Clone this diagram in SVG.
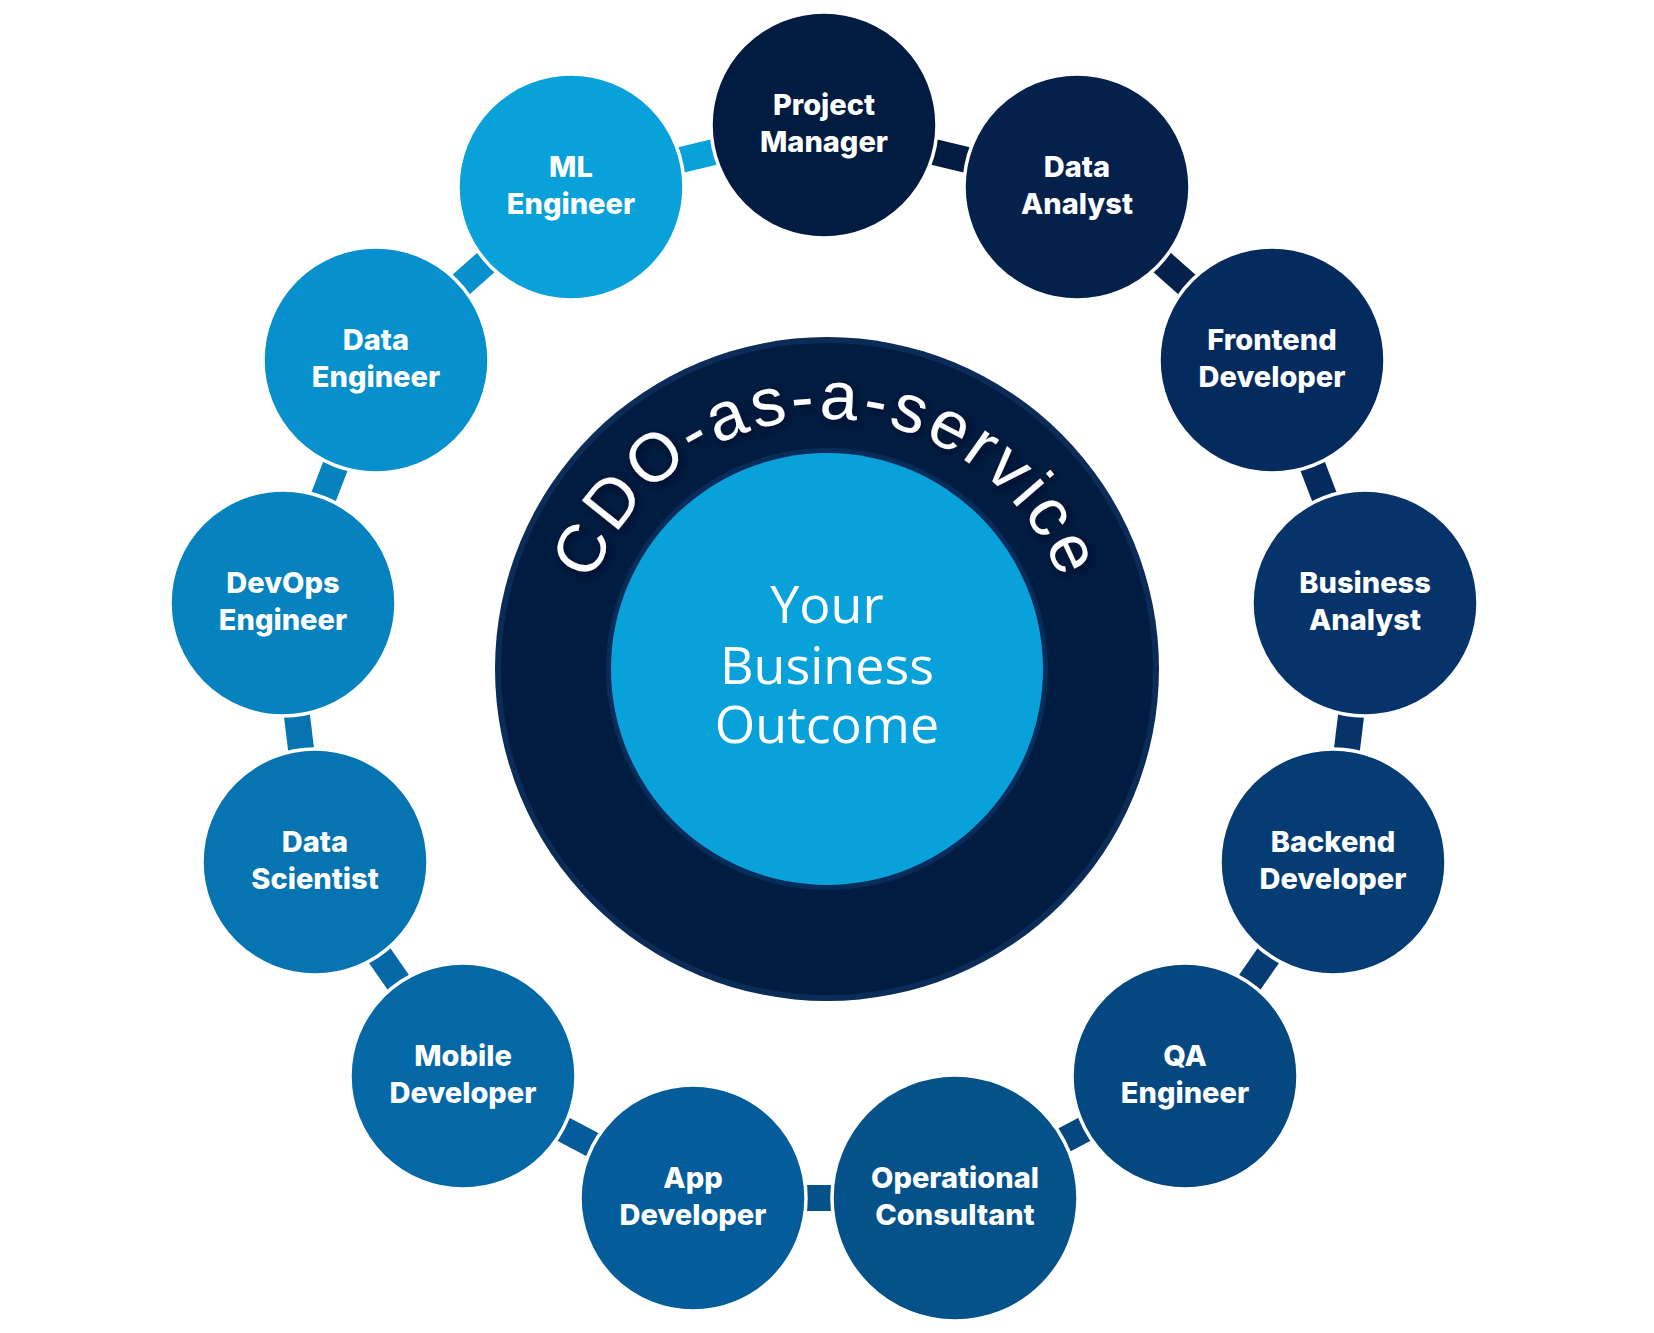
<svg xmlns="http://www.w3.org/2000/svg" width="1654" height="1333" viewBox="0 0 1654 1333">
<style>
.node{stroke:#ffffff;stroke-width:3.5}
.lbl{font-family:Inter,"Open Sans","Liberation Sans",sans-serif;font-weight:800;font-size:29px;fill:#ffffff;text-anchor:middle}
.ctr{font-family:"Open Sans","Noto Sans","Liberation Sans",sans-serif;font-weight:400;font-size:52px;fill:#ffffff;text-anchor:middle}
.arc{font-family:"Liberation Sans",Arial,sans-serif;font-size:68px;fill:#ffffff;letter-spacing:4px}
</style>
<defs>
<path id="arcPath" d="M 577 669 A 250 250 0 0 1 1077 669"/>
<filter id="sh" x="-20%" y="-20%" width="140%" height="140%">
<feDropShadow dx="3" dy="3" stdDeviation="5" flood-color="#000a1c" flood-opacity="0.7"/>
</filter>
</defs>
<rect width="1654" height="1333" fill="#ffffff"/>

<g id="connectors">
<rect x="-23" y="-13" width="46" height="26" fill="#021b41" transform="translate(950.5 156) rotate(13.8)"/>
<rect x="-23" y="-13" width="46" height="26" fill="#04214c" transform="translate(1174.5 273.5) rotate(41.6)"/>
<rect x="-23" y="-13" width="46" height="26" fill="#052b5e" transform="translate(1318.5 481.5) rotate(69.1)"/>
<rect x="-23" y="-13" width="46" height="26" fill="#06346a" transform="translate(1349 732.5) rotate(97)"/>
<rect x="-23" y="-13" width="46" height="26" fill="#043c73" transform="translate(1259 969) rotate(124.7)"/>
<rect x="-19" y="-13" width="38" height="26" fill="#054881" transform="translate(1074.4 1134.7) rotate(152.1)"/>
<rect x="-19" y="-13" width="38" height="26" fill="#05528b" transform="translate(819 1198) rotate(180)"/>
<rect x="-23" y="-13" width="46" height="26" fill="#045d9a" transform="translate(578 1137) rotate(207.9)"/>
<rect x="-23" y="-13" width="46" height="26" fill="#0468a7" transform="translate(389 969) rotate(235.3)"/>
<rect x="-23" y="-13" width="46" height="26" fill="#0574b1" transform="translate(299 732.5) rotate(263)"/>
<rect x="-23" y="-13" width="46" height="26" fill="#0682bf" transform="translate(329.5 481.5) rotate(290.9)"/>
<rect x="-23" y="-13" width="46" height="26" fill="#0791cc" transform="translate(473.5 273.5) rotate(318.4)"/>
<rect x="-23" y="-13" width="46" height="26" fill="#08a1d9" transform="translate(697.5 156) rotate(346.2)"/>
</g>

<g id="core">
<circle cx="827" cy="669" r="332" fill="#0a2c57"/>
<circle cx="827" cy="669" r="326" fill="#011c41"/>
<circle cx="827" cy="669" r="221" fill="#062d5a"/>
<circle cx="827" cy="669" r="216" fill="#08a1d9"/>
<text class="arc" filter="url(#sh)"><textPath href="#arcPath" startOffset="50%" text-anchor="middle">CDO-as-a-service</textPath></text>
<text class="ctr" x="827" y="623">Your</text>
<text class="ctr" x="827" y="684">Business</text>
<text class="ctr" x="827" y="743">Outcome</text>
</g>

<g id="project-manager">
<circle class="node" cx="824" cy="125" r="113" fill="#021b41"/>
<text class="lbl" x="824" y="115">Project</text>
<text class="lbl" x="824" y="152">Manager</text>
</g>
<g id="data-analyst">
<circle class="node" cx="1077" cy="187" r="113" fill="#04214c"/>
<text class="lbl" x="1077" y="177">Data</text>
<text class="lbl" x="1077" y="214">Analyst</text>
</g>
<g id="frontend-developer">
<circle class="node" cx="1272" cy="360" r="113" fill="#052b5e"/>
<text class="lbl" x="1272" y="350">Frontend</text>
<text class="lbl" x="1272" y="387">Developer</text>
</g>
<g id="business-analyst">
<circle class="node" cx="1365" cy="603" r="113" fill="#06346a"/>
<text class="lbl" x="1365" y="593">Business</text>
<text class="lbl" x="1365" y="630">Analyst</text>
</g>
<g id="backend-developer">
<circle class="node" cx="1333" cy="862" r="113" fill="#043c73"/>
<text class="lbl" x="1333" y="852">Backend</text>
<text class="lbl" x="1333" y="889">Developer</text>
</g>
<g id="qa-engineer">
<circle class="node" cx="1185" cy="1076" r="113" fill="#054881"/>
<text class="lbl" x="1185" y="1066">QA</text>
<text class="lbl" x="1185" y="1103">Engineer</text>
</g>
<g id="operational-consultant">
<circle class="node" cx="955" cy="1198" r="123" fill="#05528b"/>
<text class="lbl" x="955" y="1188">Operational</text>
<text class="lbl" x="955" y="1225">Consultant</text>
</g>
<g id="app-developer">
<circle class="node" cx="693" cy="1198" r="113" fill="#045d9a"/>
<text class="lbl" x="693" y="1188">App</text>
<text class="lbl" x="693" y="1225">Developer</text>
</g>
<g id="mobile-developer">
<circle class="node" cx="463" cy="1076" r="113" fill="#0468a7"/>
<text class="lbl" x="463" y="1066">Mobile</text>
<text class="lbl" x="463" y="1103">Developer</text>
</g>
<g id="data-scientist">
<circle class="node" cx="315" cy="862" r="113" fill="#0574b1"/>
<text class="lbl" x="315" y="852">Data</text>
<text class="lbl" x="315" y="889">Scientist</text>
</g>
<g id="devops-engineer">
<circle class="node" cx="283" cy="603" r="113" fill="#0682bf"/>
<text class="lbl" x="283" y="593">DevOps</text>
<text class="lbl" x="283" y="630">Engineer</text>
</g>
<g id="data-engineer">
<circle class="node" cx="376" cy="360" r="113" fill="#0791cc"/>
<text class="lbl" x="376" y="350">Data</text>
<text class="lbl" x="376" y="387">Engineer</text>
</g>
<g id="ml-engineer">
<circle class="node" cx="571" cy="187" r="113" fill="#08a1d9"/>
<text class="lbl" x="571" y="177">ML</text>
<text class="lbl" x="571" y="214">Engineer</text>
</g>
</svg>
